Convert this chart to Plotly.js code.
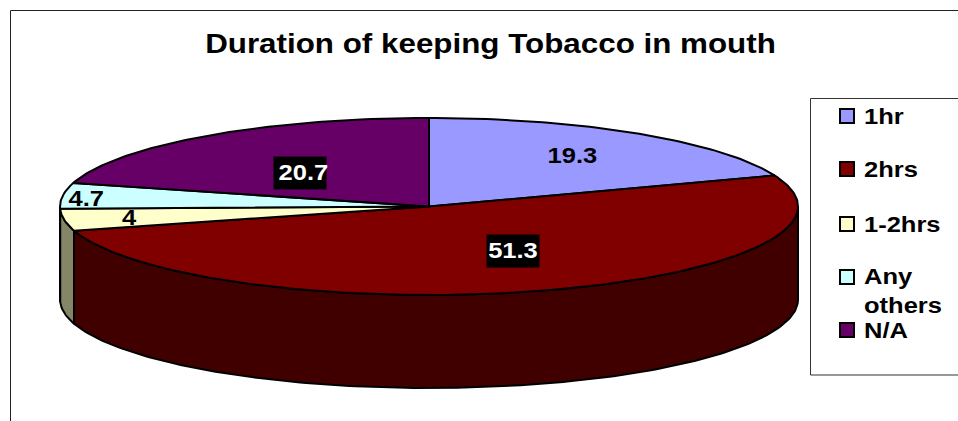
<!DOCTYPE html>
<html>
<head>
<meta charset="utf-8">
<script src="https://cdn.plot.ly/plotly-3.0.1.min.js"></script>
<style>
  html, body { margin: 0; padding: 0; background: #fff; overflow: hidden; }
  #chart { width: 958px; height: 421px; }
  /* Wide-set lettering: all chart text is stretched horizontally */
  #chart .gtitle { transform-box: fill-box; transform-origin: center; transform: scaleX(1.12); }
  #chart .annotation-text { transform-box: fill-box; transform-origin: center; transform: scaleX(1.16); }
  #chart .annotation:nth-child(n+6) .annotation-text { transform-origin: left center; }
</style>
</head>
<body>
<div id="chart"></div>
<script>
// Share of respondents by how long tobacco is kept in the mouth
const categories = ['1hr', '2hrs', '1-2hrs', 'Any others', 'N/A'];
const shares = [19.3, 51.3, 4, 4.7, 20.7];
const topColors = ['#9999FF', '#800000', '#FFFFCC', '#CCFFFF', '#660066'];
const sideColors = ['#4C4C7F', '#400000', '#858568', '#668080', '#330033'];
const labelColors = ['#000000', '#FFFFFF', '#000000', '#000000', '#FFFFFF'];
const labelBackgrounds = ['rgba(0,0,0,0)', '#000000', 'rgba(0,0,0,0)', 'rgba(0,0,0,0)', '#000000'];

// Label anchors in axis units (the tilted disc is a unit circle on these axes)
const labelX = [0.389, 0.228, -0.812, -0.928, -0.349];
const labelY = [0.58, -0.5, -0.119, 0.096, 0.379];

// Disc geometry on the page, in pixels
const W = 958, H = 421;
const cx = 429, cy = 206.5, rx = 369, ry = 88.5;
const depth = 93 / ry;
const FONT = '"Liberation Sans", Arial, sans-serif';

const total = shares.reduce((a, b) => a + b, 0);
const rad = d => d * Math.PI / 180;
const px = a => Math.sin(rad(a));
const py = a => Math.cos(rad(a));

function arc(from, to) {
  const n = Math.max(2, Math.ceil(Math.abs(to - from)));
  const xs = [], ys = [];
  for (let i = 0; i <= n; i++) {
    const a = from + (to - from) * i / n;
    xs.push(px(a));
    ys.push(py(a));
  }
  return { xs, ys };
}

const traces = [];
let start = 0;
const spans = shares.map(v => {
  const s = { from: start, to: start + v / total * 360 };
  start = s.to;
  return s;
});

// Outer wall: only the part of each slice facing the viewer (90 to 270 degrees)
spans.forEach((s, i) => {
  const from = Math.max(s.from, 90), to = Math.min(s.to, 270);
  if (to <= from) return;
  const a = arc(from, to);
  traces.push({
    type: 'scatter', mode: 'lines', fill: 'toself', fillcolor: sideColors[i],
    x: a.xs.concat(a.xs.slice().reverse(), [a.xs[0]]),
    y: a.ys.concat(a.ys.slice().reverse().map(v => v - depth), [a.ys[0]]),
    line: { color: '#000000', width: 2 }, hoverinfo: 'skip', showlegend: false
  });
});

// Top face of each slice
spans.forEach((s, i) => {
  const a = arc(s.from, s.to);
  traces.push({
    type: 'scatter', mode: 'lines', fill: 'toself', fillcolor: topColors[i],
    x: [0].concat(a.xs, [0]),
    y: [0].concat(a.ys, [0]),
    line: { color: '#000000', width: 2 }, name: categories[i],
    hoverinfo: 'skip', showlegend: false
  });
});

const paperX = v => v / W;
const paperY = v => 1 - v / H;

// Value labels on the slices; two of them sit on a black plate
const annotations = shares.map((v, i) => {
  const plated = labelBackgrounds[i] === '#000000';
  const a = {
    x: labelX[i], y: labelY[i], xref: 'x', yref: 'y', text: '<b>' + v + '</b>',
    xanchor: 'center', yanchor: 'middle',
    showarrow: false, bgcolor: labelBackgrounds[i], borderpad: 0,
    font: { family: FONT, size: 22, color: labelColors[i] }
  };
  if (plated) { a.width = 52; a.height = 32; }
  return a;
});

// Legend rows: swatch plus text, spaced by hand because one entry wraps
const legendRows = [116, 169, 224, 277, 330];
const legendText = ['1hr', '2hrs', '1-2hrs', 'Any<br>others', 'N/A'];
const legendTextRows = [116, 169, 224, 291, 330];
legendText.forEach((t, i) => annotations.push({
  x: paperX(862), y: paperY(legendTextRows[i]), xref: 'paper', yref: 'paper',
  xanchor: 'left', yanchor: 'middle', align: 'left', showarrow: false,
  text: '<b>' + t + '</b>',
  font: { family: FONT, size: 22, color: '#000000' }
}));

const shapes = [
  // Outer chart frame
  { type: 'line', xref: 'paper', yref: 'paper', x0: paperX(10.5), x1: paperX(10.5), y0: paperY(10.5), y1: 0,
    line: { color: '#222222', width: 1 } },
  { type: 'line', xref: 'paper', yref: 'paper', x0: paperX(10.5), x1: 1, y0: paperY(10.5), y1: paperY(10.5),
    line: { color: '#222222', width: 1 } },
  // Legend frame
  { type: 'rect', xref: 'paper', yref: 'paper', x0: paperX(810.5), x1: 1.01, y0: paperY(375), y1: paperY(98.5),
    fillcolor: '#FFFFFF', line: { color: '#333333', width: 1 }, layer: 'below' }
];
legendRows.forEach((row, i) => shapes.push({
  type: 'rect', xref: 'paper', yref: 'paper',
  x0: paperX(840), x1: paperX(854), y0: paperY(row + 7), y1: paperY(row - 7),
  fillcolor: topColors[i], line: { color: '#000000', width: 2 }
}));

const layout = {
  width: W, height: H,
  margin: { l: 0, r: 0, t: 0, b: 0 },
  paper_bgcolor: '#FFFFFF', plot_bgcolor: 'rgba(0,0,0,0)',
  showlegend: false,
  title: {
    text: '<b>Duration of keeping Tobacco in mouth</b>',
    x: 490.5 / W, xanchor: 'center', y: 1 - 43 / H, yanchor: 'middle',
    font: { family: FONT, size: 28, color: '#000000' }
  },
  xaxis: { range: [(0 - cx) / rx, (W - cx) / rx], visible: false, fixedrange: true },
  yaxis: { range: [(cy - H) / ry, cy / ry], visible: false, fixedrange: true },
  annotations, shapes
};

Plotly.newPlot('chart', traces, layout, { displayModeBar: false, staticPlot: true });
</script>
</body>
</html>
